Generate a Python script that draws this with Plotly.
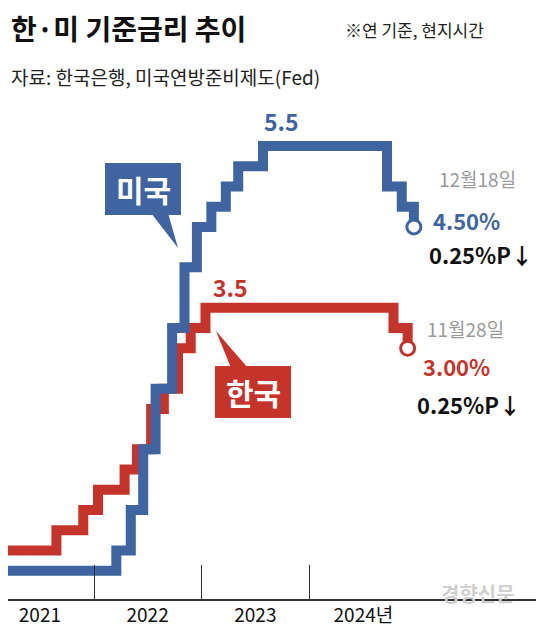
import plotly.graph_objects as go

us_dates = ["2021-03-15","2022-03-17","2022-05-05","2022-06-16","2022-07-28","2022-09-22","2022-11-03","2022-12-15",
            "2023-02-02","2023-03-23","2023-05-04","2023-07-27","2024-09-19","2024-11-08","2024-12-19"]
us_rates = [0.25,0.5,1.0,1.75,2.5,3.25,4.0,4.5,4.75,5.0,5.25,5.5,5.0,4.75,4.5]
kr_dates = ["2021-03-15","2021-08-26","2021-11-25","2022-01-14","2022-04-14","2022-05-26","2022-07-13","2022-08-25",
            "2022-10-12","2022-11-24","2023-01-13","2024-10-11","2024-11-28"]
kr_rates = [0.5,0.75,1.0,1.25,1.5,1.75,2.25,2.5,3.0,3.25,3.5,3.25,3.0]
year_labels = ["2021","2022","2023","2024년"]
year_mids = ["2021-07-01","2022-07-01","2023-07-01","2024-07-01"]
year_bounds = ["2022-01-01","2023-01-01","2024-01-01"]

BLUE = "#3f64a0"
RED = "#c4342b"
FONT = "Noto Sans CJK KR"
W, H, T, B = 544, 629, 100, 591

def px(x): return x / W
def py(y): return (B - y) / (B - T)

fig = go.Figure()
fig.add_trace(go.Scatter(x=kr_dates, y=kr_rates, mode="lines", line=dict(color=RED, width=10, shape="hv")))
fig.add_trace(go.Scatter(x=us_dates, y=us_rates, mode="lines", line=dict(color=BLUE, width=10, shape="hv")))
fig.add_trace(go.Scatter(x=[kr_dates[-1]], y=[kr_rates[-1]], mode="markers",
                         marker=dict(size=14, color="white", line=dict(color=RED, width=3))))
fig.add_trace(go.Scatter(x=[us_dates[-1]], y=[us_rates[-1]], mode="markers",
                         marker=dict(size=14, color="white", line=dict(color=BLUE, width=3))))

fig.update_layout(
    width=W, height=H, margin=dict(l=0, r=0, t=T, b=H - B), showlegend=False,
    plot_bgcolor="white", paper_bgcolor="white", font=dict(family=FONT),
    xaxis=dict(type="date", range=["2021-03-15", "2026-04-01"], tickvals=year_mids, ticktext=year_labels,
               ticks="", showgrid=False, showline=True, linecolor="#333", linewidth=2,
               tickfont=dict(size=19, color="#111"), fixedrange=True, ticklabelstandoff=-2,
               minor=dict(tickvals=year_bounds, ticks="inside", ticklen=34, tickcolor="#333", tickwidth=1.2)),
    yaxis=dict(range=[-0.1, 5.97], visible=False, showgrid=False, fixedrange=True),
)

def ann(x, y, text, size, color, bold=False, anchor="left", bg=None, fam=FONT):
    fig.add_annotation(x=px(x), y=py(y), xref="paper", yref="paper", text=f"<b>{text}</b>" if bold else text,
                       showarrow=False, xanchor=anchor, yanchor="middle",
                       font=dict(size=size, color=color, family=fam), bgcolor=bg, borderpad=0)

ann(2, 20, "한·미 기준금리 추이", 28, "#111", True)
ann(336, 22, "※연 기준, 현지시간", 17, "#222")
ann(2, 68, "자료: 한국은행, 미국연방준비제도(Fed)", 19, "#222")

# callout boxes
fig.add_shape(type="path", xref="paper", yref="paper", fillcolor=BLUE, line=dict(width=0),
              path=f"M {px(143)} {py(205)} L {px(170)} {py(240)} L {px(160)} {py(205)} Z")
fig.add_shape(type="rect", xref="paper", yref="paper", x0=px(97), x1=px(173), y0=py(207), y1=py(155),
              fillcolor=BLUE, line=dict(width=0))
ann(135, 181, "미국", 30, "white", True, "center")
fig.add_shape(type="path", xref="paper", yref="paper", fillcolor=RED, line=dict(width=0),
              path=f"M {px(223)} {py(360)} L {px(208)} {py(323)} L {px(240)} {py(360)} Z")
fig.add_shape(type="rect", xref="paper", yref="paper", x0=px(207), x1=px(283), y0=py(410), y1=py(358),
              fillcolor=RED, line=dict(width=0))
ann(245, 384, "한국", 30, "white", True, "center")

ann(273, 113, "5.5", 23, BLUE, True, "center")
ann(222, 279, "3.5", 23, RED, True, "center")
ann(430, 170, "12월18일", 19, "#999")
ann(424, 212, "4.50%", 22, BLUE, True)
ann(420, 246, "0.25%P↓", 22, "#111", True)
ann(418, 320, "11월28일", 19, "#999")
ann(414, 358, "3.00%", 22, RED, True)
ann(408, 396, "0.25%P↓", 22, "#111", True)
ann(470, 585, "경향신문", 20, "#cfcfcf", True, "center")

fig.write_html("out.html")
